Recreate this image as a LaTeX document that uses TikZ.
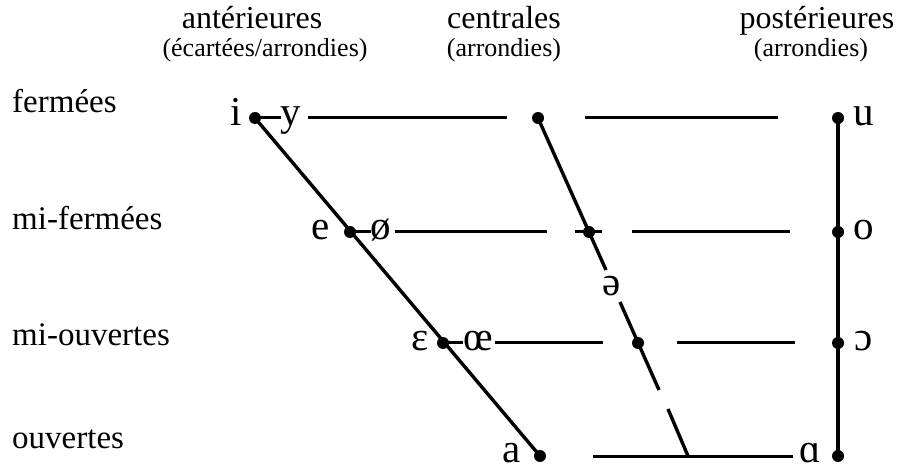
\documentclass[tikz,border=0pt]{standalone}
\usepackage{fontspec}
\setmainfont{Liberation Serif}
\usetikzlibrary{positioning}

\begin{document}
\begin{tikzpicture}[x=1pt, y=-1pt,
          head/.style={font=\fontsize{32}{36}\selectfont, inner sep=0pt, anchor=base},
          sub/.style={font=\fontsize{26}{30}\selectfont, inner sep=0pt, anchor=base},
          rowlabel/.style={font=\fontsize{33}{38}\selectfont, inner sep=0pt, anchor=base west},
          vowel/.style={font=\fontsize{41}{46}\selectfont, inner sep=0pt, anchor=base},
          pt/.style={circle, fill=black, inner sep=0pt, minimum size=12pt},
          bar/.style={line width=3.4pt},
          thin/.style={line width=3pt}]
        \useasboundingbox (0,0) rectangle (900,470);

        % en-tetes
        \node [head] (hant) at (252,29) {antérieures};
        \node [sub] (sant) at (265,57) {(écartées/arrondies)};
        \node [head] (hcen) at (504,29) {centrales};
        \node [sub] (scen) at (504,57) {(arrondies)};
        \node [head] (hpos) at (817,29) {postérieures};
        \node [sub] (spos) at (811,57) {(arrondies)};

        % degres d'aperture
        \node [rowlabel] (lfe) at (12,113) {fermées};
        \node [rowlabel] (lmf) at (12,230) {mi-fermées};
        \node [rowlabel] (lmo) at (12,346) {mi-ouvertes};
        \node [rowlabel] (lou) at (12,448) {ouvertes};

        % points
        \node [pt] (di) at (255,118) {};
        \node [pt] (d1c) at (538,118) {};
        \node [pt] (du) at (838,118) {};
        \node [pt] (de) at (350,232) {};
        \node [pt] (d2c) at (589,232) {};
        \node [pt] (do) at (838,232) {};
        \node [pt] (dE) at (443,343) {};
        \node [pt] (d3c) at (638,343) {};
        \node [pt] (dO) at (838,343) {};
        \node [pt] (da) at (540,456) {};
        \node [pt] (dA) at (838,456) {};

        % voyelles
        \node [vowel] (vi) at (236,126) {i};
        \node [vowel] (vy) at (291,126) {y};
        \node [vowel] (vu) at (864,126) {u};
        \node [vowel] (ve) at (321,240) {e};
        \node [vowel] (voe) at (381,240) {ø};
        \node [vowel] (vo) at (864,240) {o};
        \node [vowel] (vE) at (420,351) {ɛ};
        \node [vowel] (vOE) at (478,351) {œ};
        \node [vowel] (vO) at (864,351) {ɔ};
        \node [vowel] (va) at (512,462) {a};
        \node [vowel] (vA) at (810,462) {ɑ};
        \node [vowel] (vschwa) at (612,296) {ə};

        % bouts de traits
        \coordinate (h1a) at (308,118);
        \coordinate (h1b) at (507,118);
        \coordinate (h1c) at (585,118);
        \coordinate (h1d) at (778,118);
        \coordinate (h2a) at (395,232);
        \coordinate (h2b) at (547,232);
        \coordinate (h2c) at (575,232);
        \coordinate (h2d) at (602,232);
        \coordinate (h2e) at (632,232);
        \coordinate (h2f) at (790,232);
        \coordinate (h3a) at (495,343);
        \coordinate (h3b) at (603,343);
        \coordinate (h3c) at (677,343);
        \coordinate (h3d) at (795,343);
        \coordinate (h4a) at (593,456);
        \coordinate (h4b) at (793,456);
        \coordinate (c1) at (606,270);
        \coordinate (c2) at (620,302);
        \coordinate (c3) at (659,390);
        \coordinate (c4) at (668,409);
        \coordinate (c5) at (688,456);

        % traits
        \draw [bar] (di.center) -- (da.center);
        \draw [bar] (du.center) -- (dA.center);
        \draw [bar] (d1c.center) -- (c1);
        \draw [bar] (c2) -- (c3);
        \draw [bar] (c4) -- (c5);
        \draw [thin] (di.center) -- (di.center -| vy.west);
        \draw [thin] (h1a) -- (h1b);
        \draw [thin] (h1c) -- (h1d);
        \draw [thin] (de.center) -- (de.center -| voe.west);
        \draw [thin] (h2a) -- (h2b);
        \draw [thin] (h2c) -- (h2d);
        \draw [thin] (h2e) -- (h2f);
        \draw [thin] (dE.center) -- (dE.center -| vOE.west);
        \draw [thin] (h3a) -- (h3b);
        \draw [thin] (h3c) -- (h3d);
        \draw [thin] (h4a) -- (h4b);
      \end{tikzpicture}
\end{document}
